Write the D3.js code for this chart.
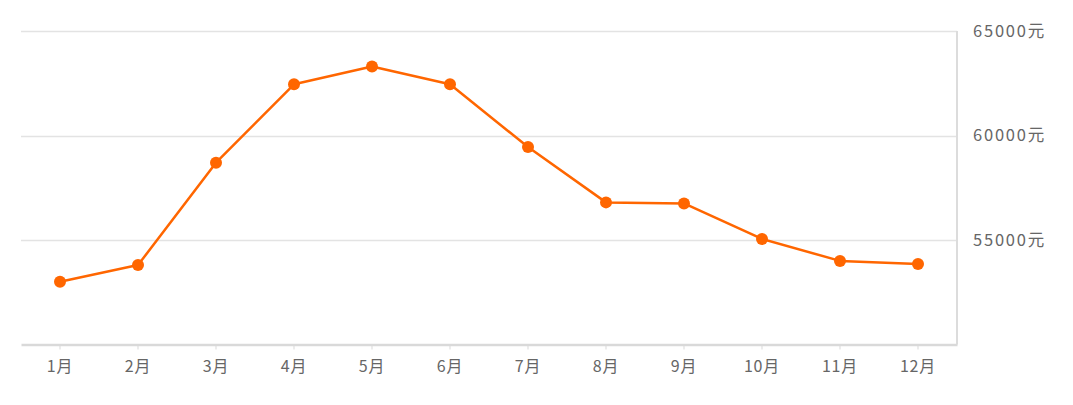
<!DOCTYPE html>
<html><head><meta charset="utf-8">
<script src="https://cdn.jsdelivr.net/npm/d3@7"></script>
<style>body{margin:0;background:#fff}svg{display:block}text{font-family:"Noto Sans CJK SC","Noto Sans",sans-serif}</style>
</head><body><svg id="c" width="1073" height="405"></svg>
<script>
const months = ["1月","2月","3月","4月","5月","6月","7月","8月","9月","10月","11月","12月"];
const prices = [53000,53800,58700,62450,63300,62450,59450,56800,56750,55050,54000,53850];
const yTicks = [55000,60000,65000];
const unit = "元";

(function(){
const svg = d3.select("#c");
const mLeft = 21, mRight = 957, mTop = 31, mBottom = 344.5;
const x = d3.scaleBand().domain(months).range([mLeft, mRight]);
const y = d3.scaleLinear().domain([50000, 65000]).range([mBottom, mTop]);

// gridlines
svg.append("g").selectAll("line").data(yTicks).join("line")
  .attr("x1", mLeft).attr("x2", mRight)
  .attr("y1", d => Math.round(y(d)) + 0.5).attr("y2", d => Math.round(y(d)) + 0.5)
  .attr("stroke", "#e3e3e3").attr("stroke-width", 1.5);

// right border
svg.append("line").attr("x1", mRight).attr("x2", mRight).attr("y1", mTop).attr("y2", mBottom)
  .attr("stroke", "#dcdcdc").attr("stroke-width", 2);

// right y axis labels
const yAxis = d3.axisRight(y).tickValues(yTicks).tickSize(0).tickPadding(16).tickFormat(d => d + unit);
const gy = svg.append("g").attr("transform", `translate(${mRight},0)`).call(yAxis);
gy.select(".domain").remove();
gy.selectAll("text").attr("fill", "#666").style("font-size", "16.5px").style("letter-spacing", "1.8px");

// bottom axis
const xAxis = d3.axisBottom(x).tickSize(5).tickSizeOuter(0).tickPadding(11);
const gx = svg.append("g").attr("transform", `translate(0,${mBottom})`).call(xAxis);
gx.select(".domain").attr("stroke", "#d9d9d9").attr("stroke-width", 2.5);
gx.selectAll(".tick line").attr("stroke", "#d9d9d9").attr("stroke-width", 1);
gx.selectAll("text").attr("fill", "#666").style("font-size", "16px").style("letter-spacing", "0.8px");

// line
const cx = (d, i) => x(months[i]) + x.bandwidth() / 2;
svg.append("path").datum(prices)
  .attr("d", d3.line().x(cx).y(d => y(d)))
  .attr("fill", "none").attr("stroke", "#ff6600").attr("stroke-width", 2.5)
  .attr("stroke-linejoin", "round");

svg.append("g").selectAll("circle").data(prices).join("circle")
  .attr("cx", cx).attr("cy", d => y(d)).attr("r", 6).attr("fill", "#ff6600");
})();
</script></body></html>
